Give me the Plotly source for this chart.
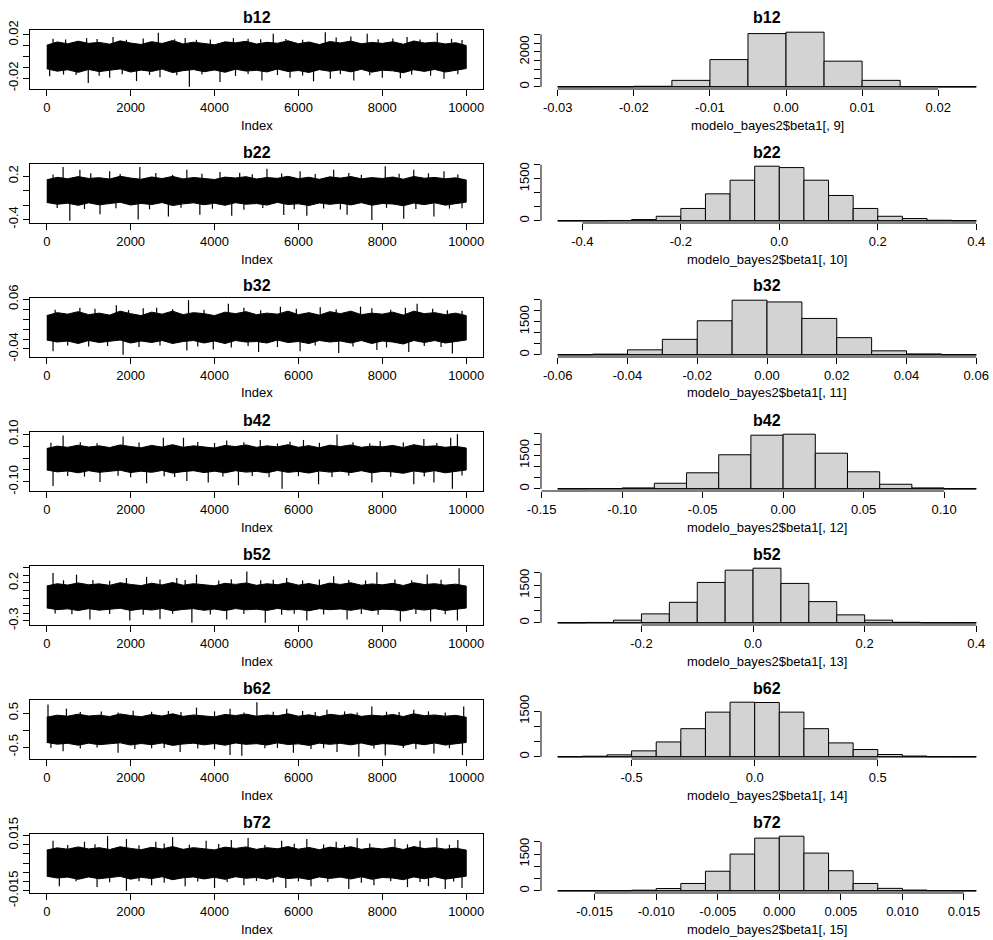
import numpy as np
import plotly.graph_objects as go

# ------------------------------------------------------------------ data
panel_names = ["b12", "b22", "b32", "b42", "b52", "b62", "b72"]
hist_xlabels = ["modelo_bayes2$beta1[, 9]", "modelo_bayes2$beta1[, 10]",
                "modelo_bayes2$beta1[, 11]", "modelo_bayes2$beta1[, 12]",
                "modelo_bayes2$beta1[, 13]", "modelo_bayes2$beta1[, 14]",
                "modelo_bayes2$beta1[, 15]"]
n_iter = 10000
index_ticks = [0, 2000, 4000, 6000, 8000, 10000]
edge_idx = [0, 250, 500, 750, 1000, 1250, 1500, 1750, 2000, 2250, 2500, 2750, 3000, 3250,
            3500, 3750, 4000, 4250, 4500, 4750, 5000, 5250, 5500, 5750, 6000, 6250, 6500,
            6750, 7000, 7250, 7500, 7750, 8000, 8250, 8500, 8750, 9000, 9250, 9500, 9750, 10000]

# --- b12 trace: dense band edges (every 250 iterations) + visible spikes
b12_hi = [0.0105, 0.0135, 0.0118, 0.0142, 0.0122, 0.0131, 0.0115, 0.0145, 0.0125, 0.0112, 0.0138,
          0.0121, 0.0148, 0.0117, 0.0133, 0.0124, 0.0109, 0.0136, 0.0127, 0.0141, 0.0116, 0.0132,
          0.0123, 0.0146, 0.0119, 0.0135, 0.0111, 0.0139, 0.0126, 0.0143, 0.0118, 0.0131, 0.0122,
          0.0137, 0.0114, 0.0144, 0.0125, 0.0133, 0.0117, 0.0128, 0.0102]
b12_lo = [-0.0112, -0.0134, -0.0121, -0.0145, -0.0118, -0.0138, -0.0127, -0.0113, -0.0142, -0.0124,
          -0.0136, -0.0115, -0.0147, -0.0129, -0.0119, -0.0139, -0.0123, -0.0144, -0.0116, -0.0133,
          -0.0126, -0.0141, -0.0114, -0.0137, -0.0128, -0.0146, -0.012, -0.0135, -0.0122, -0.014,
          -0.0117, -0.0143, -0.0125, -0.0131, -0.0148, -0.0121, -0.0136, -0.0118, -0.0142, -0.0127, -0.011]
b12_up_idx = [150, 450, 950, 1200, 1580, 1900, 2300, 2660, 3050, 3300, 3570, 3900, 4450, 4800,
              5100, 5400, 5700, 6100, 6640, 6900, 7250, 7640, 7900, 8250, 8590, 8900, 9310, 9650, 9900]
b12_up_val = [0.0165, 0.0158, 0.017, 0.0162, 0.018, 0.0155, 0.0168, 0.022, 0.016, 0.0172, 0.0155,
              0.0157, 0.017, 0.0165, 0.0159, 0.021, 0.0163, 0.0156, 0.0225, 0.0175, 0.0185, 0.021,
              0.0161, 0.0167, 0.018, 0.0158, 0.022, 0.0164, 0.0152]
b12_dn_idx = [70, 400, 700, 990, 1250, 1500, 1800, 2140, 2450, 2700, 3100, 3400, 3700, 4130, 4500,
              4800, 5130, 5500, 5800, 6100, 6360, 6760, 7000, 7320, 7700, 8000, 8430, 8700, 9150,
              9470, 9800]
b12_dn_val = [-0.018, -0.0165, -0.017, -0.0243, -0.0175, -0.0194, -0.0162, -0.0225, -0.0168, -0.019,
              -0.0172, -0.0278, -0.0165, -0.0234, -0.0178, -0.016, -0.0219, -0.0169, -0.0194, -0.0174,
              -0.0228, -0.0203, -0.0163, -0.0219, -0.0171, -0.0194, -0.020, -0.0166, -0.0176, -0.0203,
              -0.0162]

# --- b22 trace
b22_hi = [0.15, 0.185, 0.165, 0.195, 0.17, 0.18, 0.16, 0.2, 0.175, 0.158, 0.19, 0.168, 0.198,
          0.163, 0.183, 0.172, 0.155, 0.188, 0.176, 0.194, 0.162, 0.182, 0.171, 0.199, 0.166,
          0.186, 0.157, 0.192, 0.174, 0.196, 0.164, 0.181, 0.169, 0.189, 0.159, 0.197, 0.173,
          0.184, 0.165, 0.178, 0.148]
b22_lo = [-0.165, -0.19, -0.175, -0.205, -0.17, -0.198, -0.182, -0.162, -0.2, -0.178, -0.194,
          -0.166, -0.208, -0.184, -0.17, -0.196, -0.176, -0.204, -0.168, -0.189, -0.18, -0.201,
          -0.164, -0.193, -0.183, -0.207, -0.172, -0.191, -0.174, -0.199, -0.167, -0.203, -0.179,
          -0.186, -0.21, -0.173, -0.195, -0.169, -0.202, -0.181, -0.16]
b22_up_idx = [150, 390, 790, 1050, 1500, 1750, 2220, 2600, 3000, 3340, 3700, 4130, 4600, 4900,
              5250, 5600, 6040, 6400, 6840, 7200, 7500, 8070, 8400, 8750, 9100, 9470, 9800]
b22_up_val = [0.225, 0.33, 0.29, 0.24, 0.27, 0.23, 0.33, 0.245, 0.22, 0.29, 0.235, 0.26, 0.25,
              0.228, 0.305, 0.238, 0.27, 0.232, 0.29, 0.246, 0.222, 0.34, 0.236, 0.29, 0.241,
              0.27, 0.226]
b22_dn_idx = [250, 550, 900, 1270, 1650, 2180, 2450, 2900, 3200, 3650, 3950, 4410, 4700, 5150,
              5650, 5900, 6200, 6600, 7000, 7160, 7750, 8100, 8510, 8800, 9230, 9600, 9900]
b22_dn_val = [-0.24, -0.42, -0.255, -0.33, -0.245, -0.40, -0.26, -0.36, -0.238, -0.335, -0.252,
              -0.35, -0.265, -0.242, -0.34, -0.258, -0.35, -0.248, -0.262, -0.335, -0.41, -0.24,
              -0.39, -0.256, -0.36, -0.25, -0.244]

# --- b32 trace
b32_hi = [0.027, 0.033, 0.03, 0.035, 0.029, 0.032, 0.028, 0.036, 0.031, 0.027, 0.034, 0.03,
          0.036, 0.029, 0.033, 0.031, 0.027, 0.034, 0.031, 0.035, 0.029, 0.032, 0.03, 0.036,
          0.029, 0.033, 0.028, 0.035, 0.031, 0.036, 0.029, 0.032, 0.03, 0.034, 0.028, 0.036,
          0.031, 0.033, 0.029, 0.032, 0.027]
b32_lo = [-0.022, -0.026, -0.024, -0.029, -0.023, -0.027, -0.025, -0.022, -0.028, -0.024, -0.027,
          -0.023, -0.029, -0.025, -0.023, -0.028, -0.024, -0.029, -0.023, -0.026, -0.025, -0.028,
          -0.022, -0.027, -0.025, -0.029, -0.023, -0.026, -0.024, -0.028, -0.023, -0.029, -0.024,
          -0.026, -0.03, -0.023, -0.027, -0.023, -0.028, -0.025, -0.022]
b32_up_idx = [200, 790, 1150, 1660, 1950, 2300, 2620, 3000, 3380, 3750, 4330, 4700, 5100, 5570,
              5950, 6520, 6900, 7480, 7750, 8200, 8550, 8830, 9200, 9550, 9900]
b32_up_val = [0.039, 0.043, 0.041, 0.048, 0.038, 0.042, 0.043, 0.04, 0.058, 0.039, 0.051, 0.043,
              0.038, 0.045, 0.041, 0.044, 0.04, 0.045, 0.042, 0.039, 0.043, 0.051, 0.041, 0.038, 0.037]
b32_dn_idx = [150, 500, 1000, 1450, 1820, 2200, 2700, 3340, 3600, 3970, 4400, 4800, 5050, 5500,
              6040, 6400, 6960, 7300, 7870, 8100, 8630, 9000, 9400, 9670]
b32_dn_val = [-0.0445, -0.033, -0.035, -0.034, -0.0517, -0.036, -0.033, -0.043, -0.035, -0.041,
              -0.037, -0.034, -0.046, -0.036, -0.0445, -0.033, -0.048, -0.035, -0.042, -0.037,
              -0.046, -0.034, -0.036, -0.049]

# --- b42 trace
b42_hi = [0.04, 0.05, 0.045, 0.054, 0.046, 0.051, 0.044, 0.055, 0.048, 0.043, 0.053, 0.046,
          0.056, 0.045, 0.051, 0.048, 0.042, 0.053, 0.048, 0.055, 0.045, 0.051, 0.047, 0.056,
          0.045, 0.052, 0.043, 0.054, 0.048, 0.055, 0.045, 0.05, 0.047, 0.053, 0.044, 0.056,
          0.048, 0.051, 0.045, 0.049, 0.042]
b42_lo = [-0.05, -0.058, -0.054, -0.062, -0.053, -0.06, -0.056, -0.051, -0.061, -0.055, -0.06,
          -0.052, -0.063, -0.057, -0.053, -0.061, -0.055, -0.062, -0.053, -0.059, -0.056, -0.062,
          -0.052, -0.06, -0.056, -0.063, -0.054, -0.059, -0.055, -0.061, -0.053, -0.062, -0.056,
          -0.058, -0.064, -0.054, -0.06, -0.053, -0.062, -0.056, -0.05]
b42_up_idx = [100, 390, 800, 1200, 1820, 2200, 2780, 3260, 3600, 4000, 4290, 4700, 5090, 5500,
              5800, 6120, 6500, 6920, 7300, 7700, 7950, 8500, 8990, 9300, 9630, 9790]
b42_up_val = [0.064, 0.095, 0.066, 0.062, 0.09, 0.065, 0.085, 0.085, 0.067, 0.063, 0.074, 0.066,
              0.076, 0.061, 0.068, 0.076, 0.064, 0.099, 0.066, 0.062, 0.071, 0.065, 0.080, 0.063,
              0.085, 0.10]
b42_dn_idx = [150, 500, 900, 1270, 1700, 2000, 2380, 2800, 3050, 3340, 3850, 4200, 4570, 4900,
              5300, 5610, 6000, 6480, 6800, 7200, 7750, 8200, 8750, 9000, 9230, 9670, 9900]
b42_dn_val = [-0.117, -0.075, -0.078, -0.10, -0.074, -0.08, -0.106, -0.076, -0.079, -0.096,
              -0.103, -0.077, -0.114, -0.075, -0.081, -0.129, -0.076, -0.11, -0.079, -0.074,
              -0.103, -0.078, -0.11, -0.077, -0.103, -0.129, -0.073]

# --- b52 trace
b52_hi = [0.16, 0.19, 0.172, 0.2, 0.176, 0.188, 0.168, 0.203, 0.18, 0.165, 0.196, 0.174, 0.205,
          0.17, 0.19, 0.179, 0.162, 0.195, 0.181, 0.2, 0.169, 0.189, 0.177, 0.204, 0.171, 0.192,
          0.164, 0.198, 0.18, 0.202, 0.17, 0.187, 0.175, 0.195, 0.166, 0.203, 0.179, 0.19, 0.171,
          0.184, 0.158]
b52_lo = [-0.13, -0.153, -0.142, -0.165, -0.14, -0.16, -0.148, -0.135, -0.163, -0.145, -0.158,
          -0.138, -0.168, -0.15, -0.14, -0.161, -0.146, -0.166, -0.139, -0.155, -0.147, -0.164,
          -0.137, -0.157, -0.149, -0.167, -0.141, -0.154, -0.144, -0.162, -0.139, -0.165, -0.147,
          -0.152, -0.17, -0.142, -0.159, -0.14, -0.164, -0.148, -0.132]
b52_up_idx = [150, 400, 710, 1100, 1500, 1900, 2380, 2700, 3100, 3300, 3570, 4100, 4400, 4770,
              5100, 5400, 5720, 6100, 6500, 6840, 7200, 7600, 7870, 8300, 8700, 9070, 9400, 9830]
b52_up_val = [0.33, 0.235, 0.31, 0.24, 0.23, 0.265, 0.28, 0.245, 0.265, 0.238, 0.31, 0.232,
              0.248, 0.352, 0.236, 0.242, 0.265, 0.231, 0.246, 0.29, 0.239, 0.233, 0.34, 0.244,
              0.237, 0.31, 0.241, 0.395]
b52_dn_idx = [200, 600, 1030, 1500, 1980, 2300, 2700, 3000, 3460, 3900, 4290, 4700, 5210, 5600,
              5900, 6200, 6600, 7160, 7500, 7900, 8430, 8800, 9150, 9500, 9790]
b52_dn_val = [-0.205, -0.215, -0.284, -0.21, -0.297, -0.22, -0.275, -0.208, -0.327, -0.218,
              -0.284, -0.212, -0.327, -0.222, -0.206, -0.297, -0.216, -0.284, -0.211, -0.219,
              -0.31, -0.209, -0.31, -0.214, -0.297]

# --- b62 trace
b62_hi = [0.38, 0.44, 0.41, 0.47, 0.415, 0.44, 0.4, 0.475, 0.43, 0.395, 0.46, 0.415, 0.48,
          0.405, 0.445, 0.425, 0.39, 0.46, 0.43, 0.47, 0.41, 0.445, 0.42, 0.48, 0.41, 0.45,
          0.395, 0.465, 0.43, 0.475, 0.405, 0.44, 0.415, 0.46, 0.4, 0.48, 0.425, 0.445, 0.41,
          0.435, 0.38]
b62_lo = [-0.36, -0.41, -0.385, -0.44, -0.38, -0.425, -0.4, -0.37, -0.435, -0.39, -0.425,
          -0.375, -0.445, -0.405, -0.38, -0.43, -0.39, -0.44, -0.375, -0.415, -0.395, -0.435,
          -0.37, -0.42, -0.4, -0.445, -0.38, -0.415, -0.385, -0.43, -0.375, -0.44, -0.395,
          -0.41, -0.45, -0.38, -0.425, -0.375, -0.435, -0.395, -0.36]
b62_up_idx = [30, 470, 800, 1300, 1700, 2060, 2500, 2900, 3200, 3570, 4000, 4370, 4700, 5010,
              5400, 5720, 6100, 6400, 6680, 7100, 7400, 7750, 8100, 8400, 8750, 9100, 9500, 9940]
b62_up_val = [0.75, 0.63, 0.53, 0.55, 0.52, 0.57, 0.54, 0.56, 0.53, 0.66, 0.55, 0.63, 0.52,
              0.82, 0.54, 0.63, 0.56, 0.53, 0.6, 0.55, 0.52, 0.69, 0.54, 0.53, 0.6, 0.55, 0.52, 0.69]
b62_dn_idx = [100, 390, 800, 1200, 1700, 2100, 2500, 2800, 3180, 3600, 4000, 4370, 4650, 5200,
              5500, 5880, 6300, 6600, 6920, 7440, 7800, 8070, 8500, 8800, 9230, 9600, 9910]
b62_dn_val = [-0.52, -0.62, -0.54, -0.51, -0.66, -0.55, -0.53, -0.52, -0.64, -0.54, -0.56,
              -0.73, -0.75, -0.53, -0.52, -0.66, -0.55, -0.53, -0.64, -0.78, -0.54, -0.74, -0.52,
              -0.55, -0.68, -0.53, -0.73]

# --- b72 trace
b72_hi = [0.007, 0.0082, 0.0075, 0.0087, 0.0076, 0.0083, 0.0073, 0.0088, 0.0079, 0.0072, 0.0085,
          0.0076, 0.0089, 0.0074, 0.0083, 0.0078, 0.0071, 0.0086, 0.0079, 0.0087, 0.0074, 0.0083,
          0.0077, 0.0089, 0.0075, 0.0084, 0.0072, 0.0086, 0.0078, 0.0088, 0.0074, 0.0082, 0.0076,
          0.0085, 0.0073, 0.0089, 0.0078, 0.0083, 0.0075, 0.008, 0.007]
b72_lo = [-0.0071, -0.0081, -0.0076, -0.0088, -0.0075, -0.0085, -0.0079, -0.0072, -0.0087,
          -0.0077, -0.0084, -0.0074, -0.009, -0.008, -0.0075, -0.0086, -0.0077, -0.0088, -0.0074,
          -0.0082, -0.0078, -0.0087, -0.0073, -0.0084, -0.0079, -0.0089, -0.0075, -0.0083,
          -0.0076, -0.0086, -0.0074, -0.0088, -0.0078, -0.0081, -0.009, -0.0075, -0.0085,
          -0.0074, -0.0087, -0.0078, -0.0071]
b72_up_idx = [150, 500, 900, 1150, 1450, 1900, 2200, 2600, 2800, 3000, 3400, 3800, 4100, 4400,
              4800, 5200, 5600, 5900, 6200, 6600, 6900, 7100, 7400, 7700, 8300, 8600, 8900, 9300,
              9600, 9800]
b72_up_val = [0.012, 0.0098, 0.0115, 0.0102, 0.0145, 0.013, 0.0096, 0.0115, 0.0105, 0.014,
              0.0099, 0.012, 0.0103, 0.0125, 0.0135, 0.0097, 0.012, 0.0104, 0.013, 0.01, 0.0115,
              0.0098, 0.0135, 0.0106, 0.013, 0.0101, 0.012, 0.0135, 0.0099, 0.0125]
b72_dn_idx = [300, 700, 1200, 1500, 1900, 2200, 2500, 2800, 3300, 3600, 4000, 4300, 4700, 5000,
              5400, 5700, 6000, 6300, 6700, 7200, 7500, 7800, 8200, 8600, 8900, 9100, 9500, 9700, 9900]
b72_dn_val = [-0.0125, -0.0099, -0.013, -0.0104, -0.015, -0.0098, -0.012, -0.0106, -0.0125,
              -0.01, -0.0135, -0.0103, -0.012, -0.0097, -0.0105, -0.0135, -0.0099, -0.0125,
              -0.0102, -0.014, -0.0107, -0.012, -0.0098, -0.013, -0.0103, -0.0125, -0.014, -0.01,
              -0.0135]

# --- trace y ticks (labels that R could fit)
b12_yt = [-0.02, -0.01, 0.0, 0.01, 0.02];  b12_yl = ["-0.02", "", "", "", "0.02"]
b22_yt = [-0.4, -0.2, 0.0, 0.2];           b22_yl = ["-0.4", "", "", "0.2"]
b32_yt = [-0.04, -0.02, 0.0, 0.02, 0.04, 0.06]; b32_yl = ["-0.04", "", "", "", "", "0.06"]
b42_yt = [-0.10, -0.05, 0.0, 0.05, 0.10];  b42_yl = ["-0.10", "", "", "", "0.10"]
b52_yt = [-0.3, -0.2, -0.1, 0.0, 0.1, 0.2, 0.3, 0.4]; b52_yl = ["-0.3", "", "", "", "", "0.2", "", ""]
b62_yt = [-0.5, 0.0, 0.5];                 b62_yl = ["-0.5", "", "0.5"]
b72_yt = [-0.015, -0.010, -0.005, 0.0, 0.005, 0.010, 0.015]
b72_yl = ["-0.015", "", "", "", "", "", "0.015"]

# --- histograms: breaks and counts
b12_breaks = [-0.03, -0.025, -0.02, -0.015, -0.01, -0.005, 0.0, 0.005, 0.01, 0.015, 0.02, 0.025]
b12_counts = [1, 3, 30, 370, 1560, 3050, 3130, 1470, 370, 15, 1]
b22_breaks = [-0.45, -0.4, -0.35, -0.3, -0.25, -0.2, -0.15, -0.1, -0.05, 0.0,
              0.05, 0.1, 0.15, 0.2, 0.25, 0.3, 0.35, 0.4]
b22_counts = [1, 3, 12, 45, 162, 441, 963, 1450, 1950, 1900, 1450, 905, 441, 162, 81, 20, 4]
b32_breaks = [-0.06, -0.05, -0.04, -0.03, -0.02, -0.01, 0.0, 0.01, 0.02, 0.03, 0.04, 0.05, 0.06]
b32_counts = [3, 30, 225, 700, 1540, 2470, 2390, 1645, 775, 180, 40, 3]
b42_breaks = [-0.14, -0.12, -0.10, -0.08, -0.06, -0.04, -0.02, 0.0, 0.02, 0.04, 0.06, 0.08, 0.10, 0.12]
b42_counts = [1, 8, 40, 250, 720, 1530, 2410, 2455, 1600, 765, 205, 40, 1]
b52_breaks = [-0.35, -0.3, -0.25, -0.2, -0.15, -0.1, -0.05, 0.0, 0.05, 0.1, 0.15, 0.2, 0.25, 0.3, 0.35, 0.4]
b52_counts = [2, 15, 106, 356, 818, 1610, 2099, 2178, 1571, 845, 317, 106, 20, 3, 1]
b62_breaks = [-0.8, -0.7, -0.6, -0.5, -0.4, -0.3, -0.2, -0.1, 0.0, 0.1, 0.2, 0.3, 0.4, 0.5, 0.6, 0.7, 0.8, 0.9]
b62_counts = [1, 20, 65, 196, 490, 927, 1472, 1800, 1790, 1472, 927, 458, 240, 76, 25, 3, 1]
b72_breaks = [-0.018, -0.016, -0.014, -0.012, -0.010, -0.008, -0.006, -0.004, -0.002, 0.0,
              0.002, 0.004, 0.006, 0.008, 0.010, 0.012, 0.014, 0.016]
b72_counts = [1, 1, 5, 25, 95, 300, 800, 1500, 2150, 2230, 1540, 820, 300, 100, 30, 6, 1]

# --- histogram axis ticks
b12_hxt = [-0.03, -0.02, -0.01, 0.0, 0.01, 0.02]
b12_hxl = ["-0.03", "-0.02", "-0.01", "0.00", "0.01", "0.02"]
b22_hxt = [-0.4, -0.2, 0.0, 0.2, 0.4];  b22_hxl = ["-0.4", "-0.2", "0.0", "0.2", "0.4"]
b32_hxt = [-0.06, -0.04, -0.02, 0.0, 0.02, 0.04, 0.06]
b32_hxl = ["-0.06", "-0.04", "-0.02", "0.00", "0.02", "0.04", "0.06"]
b42_hxt = [-0.15, -0.10, -0.05, 0.0, 0.05, 0.10]
b42_hxl = ["-0.15", "-0.10", "-0.05", "0.00", "0.05", "0.10"]
b52_hxt = [-0.2, 0.0, 0.2, 0.4];  b52_hxl = ["-0.2", "0.0", "0.2", "0.4"]
b62_hxt = [-0.5, 0.0, 0.5];       b62_hxl = ["-0.5", "0.0", "0.5"]
b72_hxt = [-0.015, -0.010, -0.005, 0.0, 0.005, 0.010, 0.015]
b72_hxl = ["-0.015", "-0.010", "-0.005", "0.000", "0.005", "0.010", "0.015"]

b12_hyt = [0, 500, 1000, 1500, 2000, 2500, 3000]; b12_hyl = ["0", "", "", "", "2000", "", ""]
b22_hyt = [0, 500, 1000, 1500, 2000];             b22_hyl = ["0", "", "", "1500", ""]
b32_hyt = [0, 500, 1000, 1500, 2000, 2500];       b32_hyl = ["0", "", "", "1500", "", ""]
b42_hyt = [0, 500, 1000, 1500, 2000, 2500];       b42_hyl = ["0", "", "", "1500", "", ""]
b52_hyt = [0, 500, 1000, 1500, 2000];             b52_hyl = ["0", "", "", "1500", ""]
b62_hyt = [0, 500, 1000, 1500];                   b62_hyl = ["0", "", "", "1500"]
b72_hyt = [0, 500, 1000, 1500, 2000];             b72_hyl = ["0", "", "", "1500", ""]

# ------------------------------------------------------------------ assemble per-panel tables
traces = [
    (b12_hi, b12_lo, b12_up_idx, b12_up_val, b12_dn_idx, b12_dn_val, b12_yt, b12_yl),
    (b22_hi, b22_lo, b22_up_idx, b22_up_val, b22_dn_idx, b22_dn_val, b22_yt, b22_yl),
    (b32_hi, b32_lo, b32_up_idx, b32_up_val, b32_dn_idx, b32_dn_val, b32_yt, b32_yl),
    (b42_hi, b42_lo, b42_up_idx, b42_up_val, b42_dn_idx, b42_dn_val, b42_yt, b42_yl),
    (b52_hi, b52_lo, b52_up_idx, b52_up_val, b52_dn_idx, b52_dn_val, b52_yt, b52_yl),
    (b62_hi, b62_lo, b62_up_idx, b62_up_val, b62_dn_idx, b62_dn_val, b62_yt, b62_yl),
    (b72_hi, b72_lo, b72_up_idx, b72_up_val, b72_dn_idx, b72_dn_val, b72_yt, b72_yl),
]
hists = [
    (b12_breaks, b12_counts, b12_hxt, b12_hxl, b12_hyt, b12_hyl),
    (b22_breaks, b22_counts, b22_hxt, b22_hxl, b22_hyt, b22_hyl),
    (b32_breaks, b32_counts, b32_hxt, b32_hxl, b32_hyt, b32_hyl),
    (b42_breaks, b42_counts, b42_hxt, b42_hxl, b42_hyt, b42_hyl),
    (b52_breaks, b52_counts, b52_hxt, b52_hxl, b52_hyt, b52_hyl),
    (b62_breaks, b62_counts, b62_hxt, b62_hxl, b62_hyt, b62_hyl),
    (b72_breaks, b72_counts, b72_hxt, b72_hxl, b72_hyt, b72_hyl),
]

# ------------------------------------------------------------------ layout geometry (pixels)
FW, FH = 993, 940
LEFT_X = (30, 483)
RIGHT_X = (541, 993)
ROW_TOP = [30, 164, 298, 432, 566, 700, 834]
BOX_H = 59
FONT = "Arial, 'Liberation Sans', sans-serif"
TICKFONT = dict(family=FONT, size=13, color="black")
GREY = "#D3D3D3"

fig = go.Figure()
layout = dict(width=FW, height=FH,
              margin=dict(l=0, r=0, t=0, b=0, pad=0, autoexpand=False), autosize=False,
              paper_bgcolor="white", plot_bgcolor="white", showlegend=False,
              shapes=[], annotations=[])


def pad(lo, hi):
    s = hi - lo
    return [lo - 0.04 * s, hi + 0.04 * s]


def px_to_paper_x(px):
    return px / FW


def px_to_paper_y(py):
    return 1 - py / FH


for i in range(7):
    top = ROW_TOP[i]
    ydom = [px_to_paper_y(top + BOX_H), px_to_paper_y(top)]
    nl, nr = 2 * i + 1, 2 * i + 2
    xl, yl_ = ("x" if nl == 1 else f"x{nl}"), ("y" if nl == 1 else f"y{nl}")
    xr, yr = f"x{nr}", f"y{nr}"
    kxl = "xaxis" if nl == 1 else f"xaxis{nl}"
    kyl = "yaxis" if nl == 1 else f"yaxis{nl}"
    kxr, kyr = f"xaxis{nr}", f"yaxis{nr}"

    # ---------------- trace plot
    hi, lo, ui, uv, di, dv, yt, ylab = traces[i]
    poly_x = list(edge_idx) + list(edge_idx[::-1])
    poly_y = list(hi) + list(lo[::-1])
    fig.add_trace(go.Scatter(x=poly_x, y=poly_y, mode="lines", fill="toself",
                             fillcolor="black", line=dict(color="black", width=1),
                             hoverinfo="skip", xaxis=xl, yaxis=yl_))
    mid = (np.array(hi) + np.array(lo)) / 2
    sx, sy = [], []
    for idx, val in list(zip(ui, uv)) + list(zip(di, dv)):
        c = float(np.interp(idx, edge_idx, mid))
        sx += [idx, idx, None]
        sy += [c, val, None]
    fig.add_trace(go.Scatter(x=sx, y=sy, mode="lines", line=dict(color="black", width=1.2),
                             hoverinfo="skip", xaxis=xl, yaxis=yl_))
    ymin = min(min(lo), min(dv))
    ymax = max(max(hi), max(uv))
    common = dict(automargin=False, showgrid=False, zeroline=False, tickfont=TICKFONT,
                  ticks="outside", ticklen=6, tickcolor="black", tickwidth=1)
    layout[kxl] = dict(domain=[px_to_paper_x(LEFT_X[0]), px_to_paper_x(LEFT_X[1])],
                       range=pad(1, n_iter), anchor=yl_, tickvals=index_ticks,
                       ticktext=[str(v) for v in index_ticks],
                       showline=True, mirror=True, linecolor="black", linewidth=1, **common)
    layout[kyl] = dict(domain=ydom, range=pad(ymin, ymax), anchor=xl, tickvals=yt,
                       ticktext=ylab, tickangle=-90,
                       showline=True, mirror=True, linecolor="black", linewidth=1, **common)
    layout["annotations"].append(dict(text=f"<b>{panel_names[i]}</b>", xref="paper", yref="paper",
                                      x=px_to_paper_x(sum(LEFT_X) / 2), y=px_to_paper_y(top - 12),
                                      showarrow=False, xanchor="center", yanchor="middle",
                                      font=dict(family=FONT, size=16, color="black")))
    layout["annotations"].append(dict(text="Index", xref="paper", yref="paper",
                                      x=px_to_paper_x(sum(LEFT_X) / 2), y=px_to_paper_y(top + 95),
                                      showarrow=False, xanchor="center", yanchor="middle",
                                      font=dict(family=FONT, size=13, color="black")))

    # ---------------- histogram
    br, cnt, hxt, hxl, hyt, hyl = hists[i]
    br = np.array(br)
    centers = (br[:-1] + br[1:]) / 2
    widths = br[1:] - br[:-1]
    fig.add_trace(go.Bar(x=centers, y=cnt, width=widths, marker=dict(color=GREY,
                         line=dict(color="black", width=1)), hoverinfo="skip",
                         xaxis=xr, yaxis=yr))
    xrng = pad(br[0], br[-1])
    xrng = [min(xrng[0], hxt[0] - 1e-9), max(xrng[1], hxt[-1] + 1e-9)]
    M = max(cnt)
    yrng = [-0.04 * M, 1.04 * M]
    layout[kxr] = dict(domain=[px_to_paper_x(RIGHT_X[0]), px_to_paper_x(RIGHT_X[1])],
                       range=xrng, anchor=yr, tickvals=hxt, ticktext=hxl,
                       showline=False, **common)
    layout[kyr] = dict(domain=ydom, range=yrng, anchor=xr, tickvals=hyt, ticktext=hyl,
                       tickangle=-90, showline=False, **common)
    # zero-count baseline across all breaks
    layout["shapes"].append(dict(type="line", xref=xr, yref=yr, x0=br[0], x1=br[-1], y0=0, y1=0,
                                 line=dict(color="black", width=1)))

    # R-style axis lines spanning first..last tick (paper coords from axis mapping)
    def xmap(v, rng=xrng):
        f = (v - rng[0]) / (rng[1] - rng[0])
        return px_to_paper_x(RIGHT_X[0] + f * (RIGHT_X[1] - RIGHT_X[0]))

    def ymap(v, rng=yrng, t=top):
        f = (v - rng[0]) / (rng[1] - rng[0])
        return px_to_paper_y(t + BOX_H - f * BOX_H)

    ybot = px_to_paper_y(top + BOX_H)
    layout["shapes"].append(dict(type="line", xref="paper", yref="paper",
                                 x0=xmap(hxt[0]), x1=xmap(hxt[-1]), y0=ybot, y1=ybot,
                                 line=dict(color="black", width=1)))
    xleft = px_to_paper_x(RIGHT_X[0])
    layout["shapes"].append(dict(type="line", xref="paper", yref="paper",
                                 x0=xleft, x1=xleft, y0=ymap(hyt[0]), y1=ymap(hyt[-1]),
                                 line=dict(color="black", width=1)))
    layout["annotations"].append(dict(text=f"<b>{panel_names[i]}</b>", xref="paper", yref="paper",
                                      x=px_to_paper_x(767), y=px_to_paper_y(top - 12),
                                      showarrow=False, xanchor="center", yanchor="middle",
                                      font=dict(family=FONT, size=16, color="black")))
    layout["annotations"].append(dict(text=hist_xlabels[i], xref="paper", yref="paper",
                                      x=px_to_paper_x(767), y=px_to_paper_y(top + 95),
                                      showarrow=False, xanchor="center", yanchor="middle",
                                      font=dict(family=FONT, size=13, color="black")))

fig.update_layout(**layout)
fig.write_html("out.html")
